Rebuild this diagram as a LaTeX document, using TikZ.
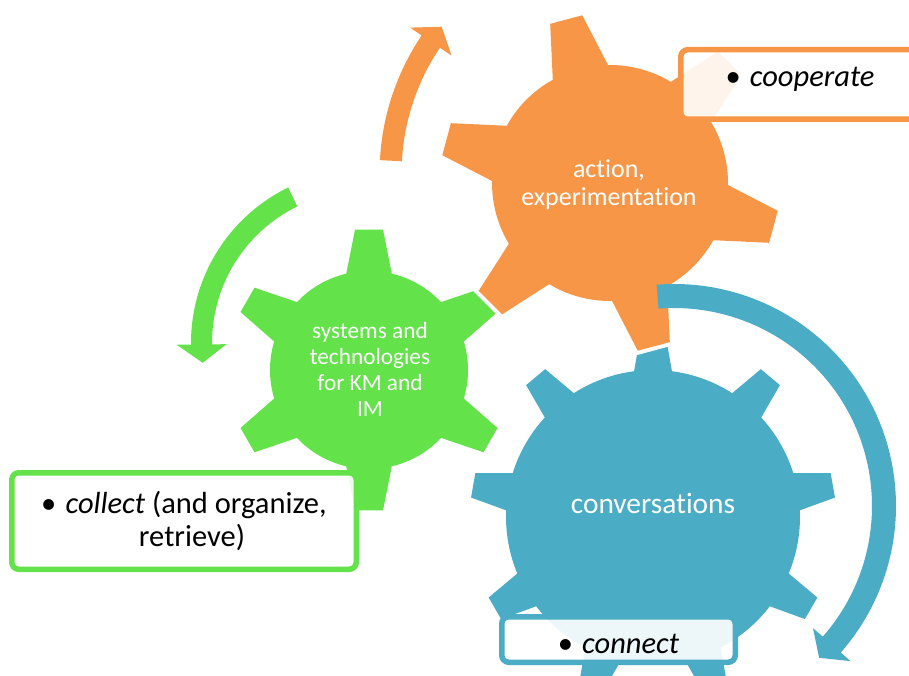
\documentclass[tikz,border=0pt]{standalone}
\usepackage{fontspec}
\setmainfont{Carlito}[Ligatures=NoCommon]
\usepackage{tikz}

\definecolor{gearorange}{RGB}{247,150,70}
\definecolor{geargreen}{RGB}{99,226,74}
\definecolor{gearblue}{RGB}{75,172,198}

% #1 style, #2 centre, #3 teeth, #4 first tooth, #5 body radius, #6 tip radius,
% #7 half angle at body, #8 half angle at tip
\newcommand{\gear}[8]{%
  \pgfmathsetmacro{\gstep}{360/#3}
  \path[#1,shift={#2}] ({#4-#7}:#5)
    \foreach \k in {1,...,#3}{
      -- ({#4+(\k-1)*\gstep-#8}:#6) -- ({#4+(\k-1)*\gstep+#8}:#6)
      -- ({#4+(\k-1)*\gstep+#7}:#5)
      arc[start angle={#4+(\k-1)*\gstep+#7}, end angle={#4+\k*\gstep-#7}, radius=#5]
    } -- cycle;
}

% #1 colour, #2 centre, #3 inner radius, #4 outer radius, #5 start, #6 head, #7 tip
\newcommand{\bentarrow}[7]{%
  \pgfmathsetmacro{\rmid}{(#3+#4)/2}
  \fill[#1,shift={#2}] ({#5}:#4) arc[start angle=#5, end angle=#6, radius=#4]
    -- ({#6}:{\rmid+25}) -- ({#7}:{\rmid}) -- ({#6}:{\rmid-25})
    -- ({#6}:#3) arc[start angle=#6, end angle=#5, radius=#3] -- cycle;
}

\begin{document}
\begin{tikzpicture}[x=1pt,y=1pt,
    geartext/.style={text=white,align=center},
    notebox/.style={draw=#1,line width=5.5,rounded corners=7,fill=white,
      fill opacity=0.9,text opacity=1,inner sep=0,
      font=\fontsize{30.5}{32.6}\selectfont}]
  \clip (0,0) rectangle (909,675);

  \gear{fill=geargreen}{(369,305)}{6}{90}{99}{141}{13.3}{5.7}
  \gear{fill=gearblue}{(653,158)}{9}{90}{147}{183}{7.4}{3.9}
  \gear{fill=gearorange,preaction={draw=white,line width=8}}{(610,492)}{6}{45}{118}{170}{14}{5.6}

  \bentarrow{gearorange}{(625.6,502)}{224}{246}{177}{146}{141.5}
  \bentarrow{geargreen}{(364,332)}{152}{173}{116}{180.5}{187}
  \bentarrow{gearblue}{(674,169)}{198}{222}{94.5}{-41.3}{-46.3}

  \node[geartext,font=\fontsize{26}{28}\selectfont] (action) at (609,490)
    {action,\\experimentation};
  \node[geartext,font=\fontsize{23.3}{26.1}\selectfont] (systems) at (370,305.5)
    {systems and\\technologies\\for KM and\\IM};
  \node[geartext,font=\fontsize{29.4}{32}\selectfont,anchor=base] (talk) at (653,161.7)
    {conversations};

  \node[notebox=gearorange,minimum width=238.5,minimum height=69.5,
        text height=16,text depth=11.6] (coop) at (800,590.5)
    {•\hspace{0.3em}\textit{cooperate}};
  \node[notebox=geargreen,minimum width=344.5,minimum height=96.5,align=center] (collect) at (184,154)
    {•\hspace{0.3em}\textit{collect} (and organize,\\\hspace*{16pt}retrieve)};
  \node[notebox=gearblue,minimum width=233.5,minimum height=45.5,
        text height=27.6,text depth=0] (connect) at (618.5,35.5)
    {•\hspace{0.3em}\textit{connect}};
\end{tikzpicture}
\end{document}
